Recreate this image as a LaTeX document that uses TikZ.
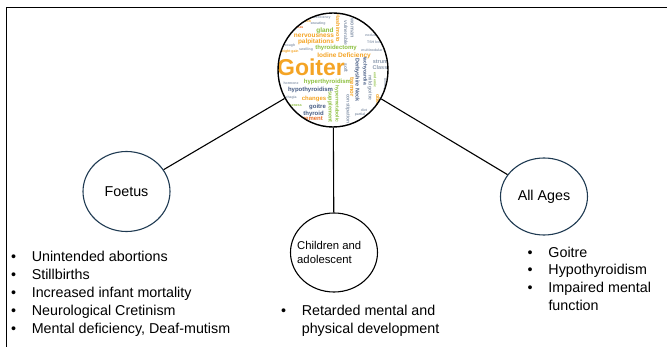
\documentclass[tikz,border=0pt]{standalone}
\usepackage{fontspec}
\setmainfont{Liberation Sans}
\usetikzlibrary{shapes.geometric}

\definecolor{ringblue}{HTML}{1F3A52}
\definecolor{cloudorange}{HTML}{F4A425}
\definecolor{cloudred}{HTML}{E8702A}
\definecolor{cloudgreen}{HTML}{8CBF3F}
\definecolor{cloudblue}{HTML}{465C84}
\definecolor{cloudgrey}{HTML}{8C9AAE}

\newcommand{\dotitem}{\makebox[20.8pt][l]{\textbullet}}

\begin{document}
\begin{tikzpicture}[x=1pt,y=-1pt,
    group/.style={ellipse, draw=ringblue, line width=1.1pt, minimum width=87pt, minimum height=80pt, inner sep=0pt, font=\fontsize{14.3}{17}\selectfont},
    link/.style={line width=1.1pt},
    effects/.style={anchor=base west, align=left, inner sep=0pt, font=\fontsize{14.3}{17.8}\selectfont},
    word/.style={inner sep=0pt, font=\bfseries\fontsize{#1}{#1}\selectfont}
  ]
        \useasboundingbox (0,0) rectangle (667,347);

        % Draw the frame
        \draw[line width=1pt] (6,347) -- (6,8) -- (667,8);

        % Word cloud inside the top circle
        \begin{scope}
            \clip (333,70) ellipse [x radius=55pt, y radius=57pt];
            \foreach \px/\py/\rot/\sz/\col/\txt [count=\i] in {
                311/67/0/23/cloudorange/Goiter,
                344/55.5/0/6.5/cloudorange/Iodine Deficiency,
                336/48/0/6/cloudgreen/thyroidectomy,
                316/42/0/6.4/cloudorange/palpitations,
                314/36/0/6.5/cloudorange/nervousness,
                325/31/0/6.5/cloudgreen/gland,
                327.5/82/0/6/cloudgreen/hyperthyroidism,
                310.5/90/0/6/cloudblue/hypothyroidism,
                314/98.5/0/6/cloudorange/changes,
                317.5/107/0/6/cloudblue/goitre,
                313.5/114/0/6/cloudblue/thyroid,
                305/119/0/6/cloudred/enlargement,
                357/80/-90/5.5/cloudblue/Derbyshire Neck,
                365/71/-90/5/cloudblue/tachycardia,
                352/87/-90/6/cloudorange/tremor,
                352/28/-90/5.5/cloudgrey/woman,
                346/33/-90/5/cloudgrey/vulnerable,
                382/62/0/5.5/cloudgrey/struma,
                380/68/0/5.5/cloudgrey/Class,
                330/107/-90/5.5/cloudgreen/supplement,
                337/104/-90/5/cloudgreen/hypermetabolic,
                348/109/-90/5/cloudgrey/constipation,
                378/102/-90/5.5/cloudorange/obese,
                370/88/-90/5/cloudgrey/mild goitre,
                338/28/-90/5.5/cloudorange/Hashimoto,
                346/68/-90/5/cloudgrey/soft,
                300/22/0/3.5/cloudorange/consumption,
                322/18/0/3.5/cloudgrey/deficiency,
                296/28/0/3.5/cloudred/pubertas,
                290/45.5/0/3.5/cloudgrey/cough,
                289/52/0/3.5/cloudorange/weight gain,
                306/49.5/0/3.5/cloudgrey/swelling,
                372/35/0/3.5/cloudgrey/nodules,
                375/42/0/3.5/cloudgrey/TSH level,
                372/50/0/3.5/cloudgrey/multinodular,
                375/80/-90/3.5/cloudgreen/endemic,
                291/83/0/3.5/cloudgrey/hormone,
                288/98/0/3.5/cloudgrey/dysphagia,
                292/105/0/3.5/cloudgreen/hoarseness,
                290/112/0/3.5/cloudgrey/lump,
                360/115/0/3.5/cloudgrey/partial,
                364/110/0/3.5/cloudgrey/diet,
                385/90/-90/3.5/cloudgrey/levothyroxine,
                318/24/0/3.5/cloudgrey/sweating
            } \node[word=\sz, text=\col, rotate=\rot] (w\i) at (\px,\py) {\txt};
        \end{scope}
        \node[ellipse, draw, line width=1.4pt, minimum width=110pt, minimum height=114pt] (goiter) at (333,70) {};

        % Age groups
        \node[group] (foetus) at (126.5,191.5) {Foetus};
        \node[group, draw=black, minimum height=79pt] (children) at (334,252.5) {};
        \node[anchor=base west, align=left, inner sep=0pt, font=\fontsize{11.3}{14}\selectfont] (childtext) at (297,263.3) {Children and\\adolescent};
        \node[group, minimum height=77pt] (allages) at (544,196.5) {All Ages};

        % Links from the cloud
        \draw[link] (goiter) -- (foetus);
        \draw[link] (goiter) -- (children);
        \draw[link] (goiter) -- (allages);

        % Effects in each group
        \node[effects] (foetuslist) at (10.8,333.2) {\dotitem Unintended abortions\\
            \dotitem Stillbirths\\
            \dotitem Increased infant mortality\\
            \dotitem Neurological Cretinism\\
            \dotitem Mental deficiency, Deaf-mutism};
        \node[effects] (childlist) at (280.8,333.8) {\dotitem Retarded mental and\\
            \hspace*{20.8pt}physical development};
        \node[effects] (agelist) at (527.5,310.5) {\dotitem Goitre\\
            \dotitem Hypothyroidism\\
            \dotitem Impaired mental\\
            \hspace*{20.8pt}function};
\end{tikzpicture}
\end{document}
